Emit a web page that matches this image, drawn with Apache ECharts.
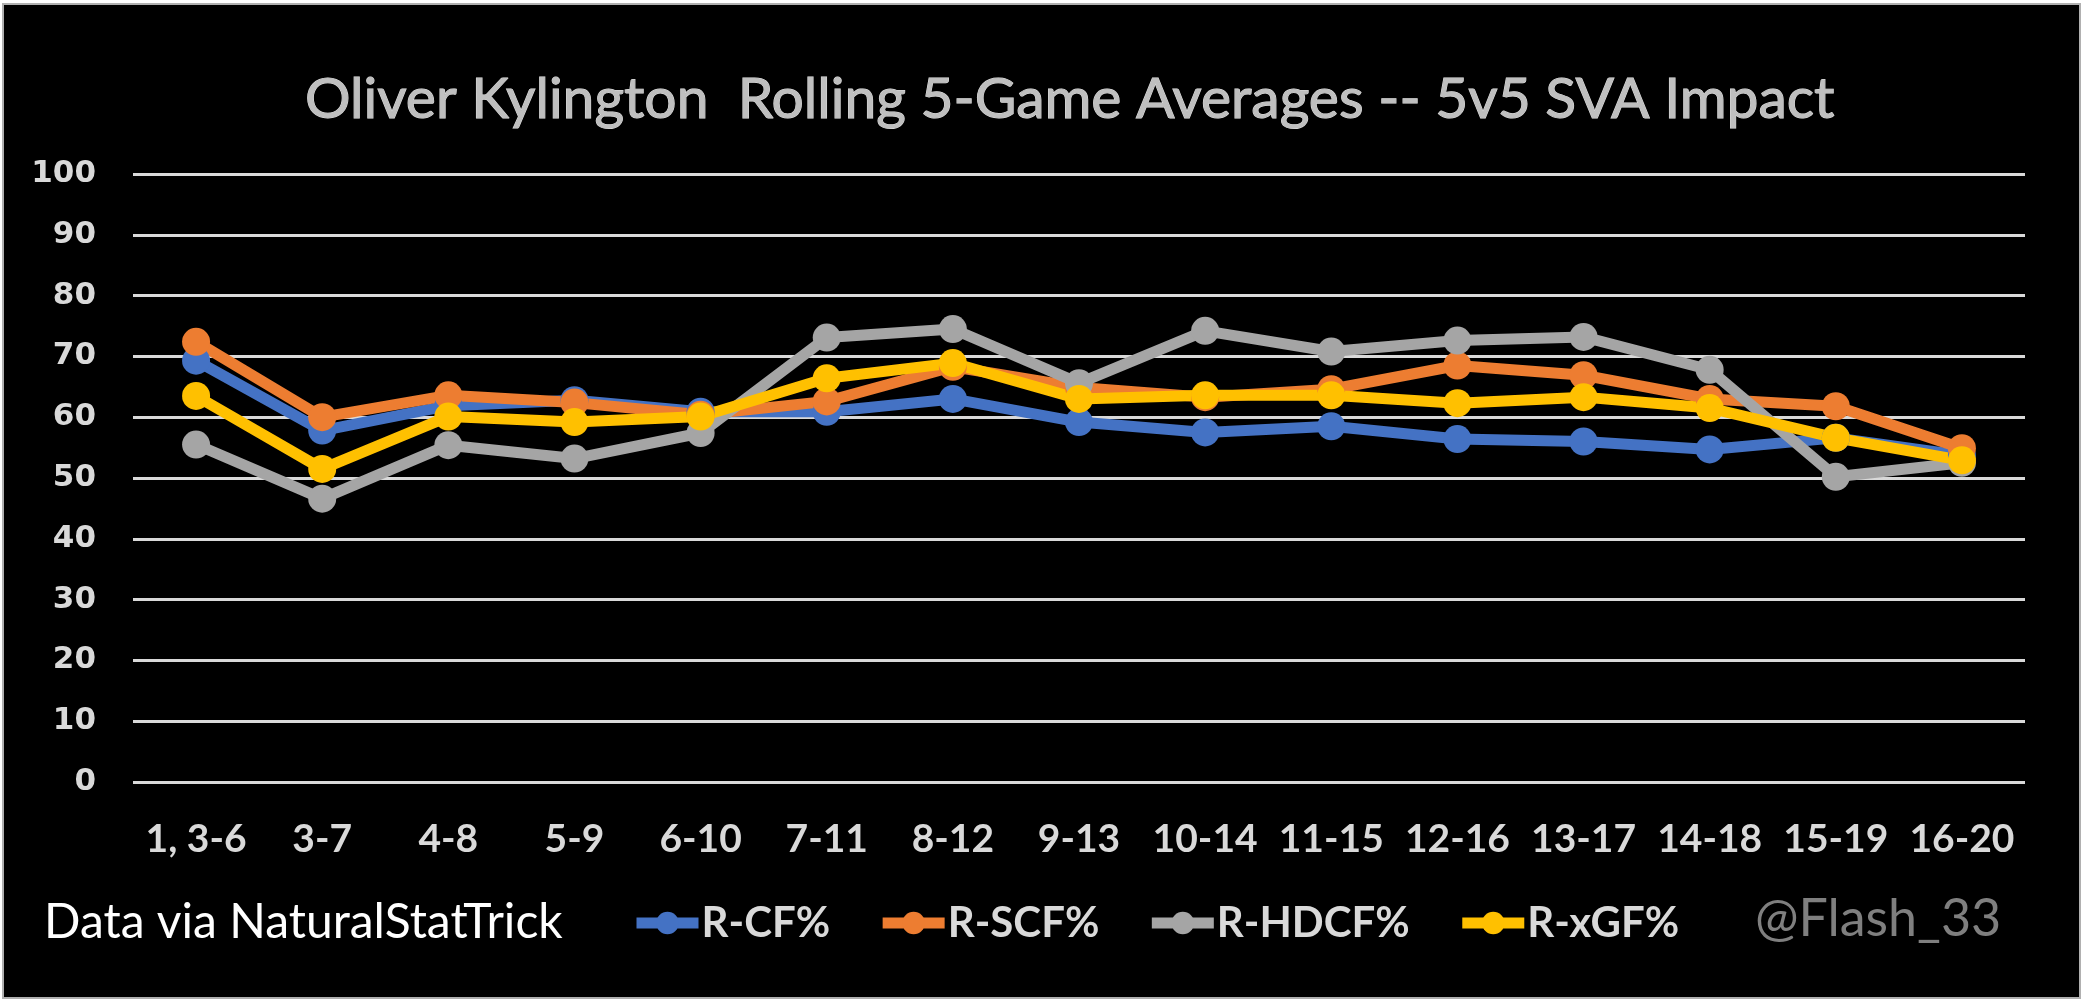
<!DOCTYPE html>
<html>
<head>
<meta charset="utf-8">
<script src="https://cdn.jsdelivr.net/npm/echarts@6/dist/echarts.min.js"></script>
<style>
html,body{margin:0;padding:0;background:#fff;}
#chart{width:2085px;height:1003px;}
</style>
</head>
<body>
<div id="chart"></div>
<script>
const categories = ['1, 3-6','3-7','4-8','5-9','6-10','7-11','8-12','9-13','10-14','11-15','12-16','13-17','14-18','15-19','16-20'];
const rCF   = [69.3, 57.8, 61.9, 62.8, 60.9, 60.9, 63.0, 59.2, 57.5, 58.5, 56.4, 56.0, 54.7, 56.6, 53.7];
const rSCF  = [72.4, 60.0, 63.6, 62.4, 60.4, 62.6, 68.3, 64.9, 63.3, 64.6, 68.5, 66.9, 63.0, 61.8, 54.9];
const rHDCF = [55.5, 46.6, 55.4, 53.2, 57.4, 73.1, 74.5, 65.6, 74.2, 70.8, 72.6, 73.2, 67.8, 50.2, 52.5];
const rXGF  = [63.5, 51.5, 60.1, 59.2, 60.1, 66.4, 68.9, 63.0, 63.6, 63.6, 62.3, 63.3, 61.5, 56.6, 52.9];
const yTicks = {min: 0, max: 100, interval: 10};

const sans = "'Lato', 'Roboto', sans-serif";
const chart = echarts.init(document.getElementById('chart'));
function mk(name, data, color) {
  return {
    name: name, type: 'line', data: data,
    symbol: 'circle', symbolSize: 28,
    lineStyle: {color: color, width: 11},
    itemStyle: {color: color},
    emphasis: {disabled: true}
  };
}
chart.setOption({
  backgroundColor: '#ffffff',
  animation: false,
  graphic: [
    {type: 'rect', z: -10, shape: {x: 3, y: 4, width: 2077, height: 994},
     style: {fill: '#000000', stroke: '#b0b0b0', lineWidth: 2}},
    {type: 'text', left: 44, top: 899,
     style: {text: 'Data via NaturalStatTrick', fill: '#ffffff', font: "48px " + sans}},
    {type: 'text', left: 1755, top: 893,
     style: {text: '@Flash_33', fill: '#7f7f7f', font: "52px " + sans}}
  ],
  title: {
    text: 'Oliver Kylington  Rolling 5-Game Averages -- 5v5 SVA Impact',
    left: 300, top: 66,
    textStyle: {color: '#bfbfbf', fontSize: 57, fontWeight: 'normal', fontFamily: sans,
                textBorderColor: '#e0e0e0', textBorderWidth: 1}
  },
  legend: {
    left: 626, top: 897,
    itemWidth: 62, itemHeight: 28, itemGap: 47,
    lineStyle: {width: 11},
    textStyle: {color: '#d9d9d9', fontSize: 42, fontWeight: 'bold', fontFamily: sans, padding: [0,0,0,-2]},
    data: ['R-CF%','R-SCF%','R-HDCF%','R-xGF%']
  },
  grid: {left: 133, right: 60, top: 174, bottom: 221, containLabel: false},
  xAxis: {
    type: 'category', data: categories, boundaryGap: true,
    axisLine: {show: false}, axisTick: {show: false},
    axisLabel: {color: '#d9d9d9', fontSize: 39, fontWeight: 'bold', fontFamily: sans, margin: 38, interval: 0}
  },
  yAxis: {
    type: 'value', min: yTicks.min, max: yTicks.max, interval: yTicks.interval,
    axisLine: {show: false}, axisTick: {show: false},
    axisLabel: {color: '#d9d9d9', fontSize: 31, fontWeight: 'bold', fontFamily: "'DejaVu Sans', sans-serif", margin: 37},
    splitLine: {lineStyle: {color: '#d9d9d9', width: 3}}
  },
  series: [
    mk('R-CF%', rCF, '#4472C4'),
    mk('R-SCF%', rSCF, '#ED7D31'),
    mk('R-HDCF%', rHDCF, '#A5A5A5'),
    mk('R-xGF%', rXGF, '#FFC000')
  ]
});
</script>
</body>
</html>
